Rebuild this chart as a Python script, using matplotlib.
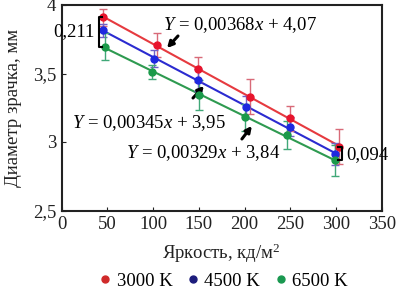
import matplotlib
matplotlib.use("Agg")
import matplotlib.pyplot as plt
import numpy as np
from matplotlib.lines import Line2D

plt.rcParams['font.family'] = ['Liberation Serif', 'DejaVu Serif']
plt.rcParams['mathtext.fontset'] = 'custom'
plt.rcParams['mathtext.rm'] = 'Liberation Serif'
plt.rcParams['mathtext.it'] = 'Liberation Serif:italic'

series = ['3000 K', '4500 K', '6500 K']
x_3000 = [45.5, 103.9, 149.4, 205.9, 249.7, 303.3]
y_3000 = [3.909, 3.708, 3.531, 3.331, 3.173, 2.966]
e_3000 = [0.06, 0.09, 0.09, 0.13, 0.09, 0.13]
x_4500 = [45.5, 101.3, 148.7, 201.6, 249.7, 298.9]
y_4500 = [3.814, 3.609, 3.453, 3.253, 3.112, 2.910]
e_4500 = [0.05, 0.06, 0.08, 0.08, 0.07, 0.08]
x_6500 = [47.4, 98.4, 150.5, 200.5, 246.1, 298.9]
y_6500 = [3.696, 3.513, 3.343, 3.180, 3.051, 2.865]
e_6500 = [0.10, 0.05, 0.11, 0.10, 0.10, 0.11]

x_ticks = [0, 50, 100, 150, 200, 250, 300, 350]
y_ticks = [2.5, 3, 3.5, 4]
y_tick_labels = ['2,5', '3', '3,5', '4']

eq_texts = [r'$Y$ = 0,00368$x$ + 4,07', r'$Y$ = 0,00345$x$ + 3,95', r'$Y$ = 0,00329$x$ + 3,84']
diff_labels = ['0,211', '0,094']

line_colors = ['#e63a3f', '#2b2bd0', '#2e9a50']
marker_colors = ['#e8142c', '#1e28e0', '#1a9a4a']
err_colors = ['#d86a78', '#7060c8', '#40a878']
legend_colors = ['#d02a2a', '#1c1c7c', '#1a9850']

fig = plt.figure(figsize=(3.96, 2.90), dpi=100)
ax = fig.add_axes([61.7/396, 1-210.5/290, 320/396, 205.5/290])

data = [(x_3000, y_3000, e_3000), (x_4500, y_4500, e_4500), (x_6500, y_6500, e_6500)]
for i, (xs, ys, es) in enumerate(data):
    xs = np.array(xs); ys = np.array(ys)
    k, b = np.polyfit(xs, ys, 1)
    xl = np.array([xs.min(), xs.max()])
    ax.plot(xl, k*xl + b, color=line_colors[i], lw=1.5, zorder=2)
    ax.errorbar(xs, ys, yerr=es, fmt='none', ecolor=err_colors[i], elinewidth=1.0,
                capsize=3, capthick=1.0, zorder=3)
    ax.plot(xs, ys, 'o', color=marker_colors[i], ms=5, zorder=4)

fs = 13.5
ax.text(110.8, 3.854, eq_texts[0], fontsize=fs, va='center', ha='left')
ax.text(11.3, 3.139, eq_texts[1], fontsize=fs, va='center', ha='left')
ax.text(70.3, 2.92, eq_texts[2], fontsize=fs, va='center', ha='left')

ap = dict(arrowstyle='-|>,head_length=0.35,head_width=0.18', lw=2.2, color='black',
          shrinkA=0, shrinkB=0)
ax.annotate('', xy=(115.2, 3.686), xytext=(127.2, 3.774), arrowprops=ap)
ax.annotate('', xy=(155.6, 3.409), xytext=(143.6, 3.321), arrowprops=ap)
ax.annotate('', xy=(208.0, 3.117), xytext=(197.1, 3.022), arrowprops=ap)

# brackets
bx1, by1a, by1b = 40.8, y_3000[0], y_6500[0]
ax.plot([bx1+3.3, bx1, bx1, bx1+3.3], [by1a, by1a, by1b, by1b], color='black', lw=1.5, zorder=5)
ax.text(36.5, 3.805, diff_labels[0], fontsize=fs, va='center', ha='right')
bx2, by2a, by2b = 306.2, y_3000[-1], y_6500[-1]
ax.plot([bx2-3.5, bx2, bx2, bx2-3.5], [by2a, by2a, by2b, by2b], color='black', lw=1.5, zorder=5)
ax.text(311.0, 2.905, diff_labels[1], fontsize=fs, va='center', ha='left')

ax.set_xlim(0, 350)
ax.set_ylim(2.5, 4.0)
ax.set_xticks(x_ticks)
ax.set_xticklabels([str(t) for t in x_ticks])
ax.set_yticks(y_ticks)
ax.set_yticklabels(y_tick_labels)
ax.tick_params(direction='in', length=3, width=0.8, labelsize=fs, colors='#222222',
               labelcolor='#222222', pad=4)
for s in ax.spines.values():
    s.set_linewidth(1.5)
    s.set_color('#222222')

ax.set_xlabel('Яркость, кд/м$^2$', fontsize=fs, labelpad=6, color='#222222')
ax.set_ylabel('Диаметр зрачка, мм', fontsize=fs, labelpad=8, color='#222222')

handles = [Line2D([], [], marker='o', ls='none', color=c, ms=5) for c in legend_colors]
fig.legend(handles, series, loc='center', bbox_to_anchor=(0.56, 0.03), ncol=3,
           frameon=False, fontsize=fs, handletextpad=0.1, columnspacing=0.6,
           handlelength=1.0, borderpad=0, borderaxespad=0)

fig.savefig('out.png', dpi=100)
